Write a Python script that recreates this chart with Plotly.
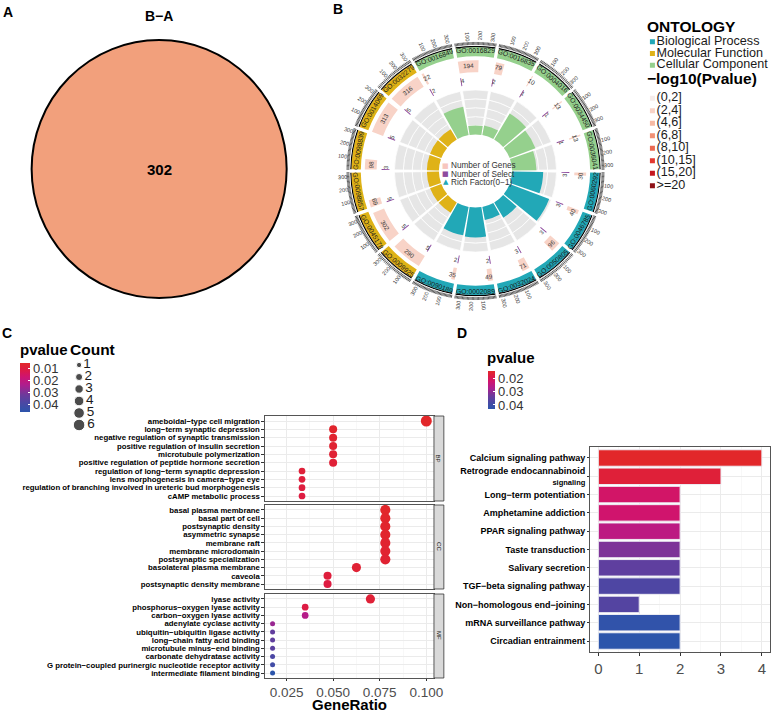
import math
import plotly.graph_objects as go

W, H = 784, 712
FONT = "Liberation Sans, Arial, sans-serif"


def dx(a, b):
    return [a / W, b / W]


def dy(a, b):
    return [1 - b / H, 1 - a / H]


def px_x(p):
    return p / W


def px_y(p):
    return 1 - p / H


# ======================= DATA =======================
# Panel A (Venn, one set)
venn_label = "B−A"
venn_size = 302

# Panel B (GO circle, sectors clockwise from top)
b_go_ids = ["GO:0016829", "GO:0016835", "GO:0004016", "GO:0034450", "GO:0036041",
            "GO:0060292", "GO:0046785", "GO:0050805", "GO:0032024", "GO:0002089", "GO:0090189",
            "GO:0009925", "GO:0045178", "GO:0098857", "GO:0098839", "GO:0014069", "GO:0032279",
            "GO:0016849"]
b_ontology = ["CC", "CC", "CC", "CC", "CC",
              "BP", "BP", "BP", "BP", "BP", "BP",
              "MF", "MF", "MF", "MF", "MF", "MF",
              "CC"]
b_genes = [194, 79, 10, 13, 13, 30, 40, 96, 71, 49, 35, 290, 302, 69, 98, 313, 316, 22]
b_select = [4, 2, 1, 1, 1, 3, 3, 3, 3, 2, 2, 5, 5, 5, 3, 5, 5, 2]
b_rich = [0.20, 0.22, 0.68, 0.62, 0.55, 0.70, 0.95, 0.40, 0.30, 0.67, 0.65,
          0.27, 0.27, 0.27, 0.27, 0.27, 0.27, 0.65]
b_pbin = ["(2,4]"] * 18
ontology_order = ["BP", "MF", "CC"]
ontology_names = ["Biological Process", "Molecular Function", "Cellular Component"]
pbin_labels = ["(0,2]", "(2,4]", "(4,6]", "(6,8]", "(8,10]", "(10,15]", "(15,20]", ">=20"]
center_legend = ["Number of Genes", "Number of Select", "Rich Factor(0−1)"]
b_axis_labels = [100, 200, 300]

# Panel C (dot plot, faceted)
c_facets = ["BP", "CC", "MF"]
c_bp_terms = ["ameboidal−type cell migration", "long−term synaptic depression",
              "negative regulation of synaptic transmission", "positive regulation of insulin secretion",
              "microtubule polymerization", "positive regulation of peptide hormone secretion",
              "regulation of long−term synaptic depression", "lens morphogenesis in camera−type eye",
              "regulation of branching involved in ureteric bud morphogenesis", "cAMP metabolic process"]
c_bp_ratio = [0.100, 0.050, 0.050, 0.050, 0.050, 0.050, 0.0333, 0.0333, 0.0333, 0.0333]
c_bp_count = [6, 3, 3, 3, 3, 3, 2, 2, 2, 2]
c_bp_p = [0.0058, 0.0065, 0.0070, 0.0075, 0.0080, 0.0085, 0.0090, 0.0095, 0.0100, 0.0105]
c_cc_terms = ["basal plasma membrane", "basal part of cell", "postsynaptic density", "asymmetric synapse",
              "membrane raft", "membrane microdomain", "postsynaptic specialization",
              "basolateral plasma membrane", "caveola", "postsynaptic density membrane"]
c_cc_ratio = [0.078, 0.078, 0.078, 0.078, 0.078, 0.078, 0.078, 0.0625, 0.047, 0.047]
c_cc_count = [5, 5, 5, 5, 5, 5, 5, 4, 3, 3]
c_cc_p = [0.0060, 0.0062, 0.0064, 0.0066, 0.0070, 0.0072, 0.0075, 0.0080, 0.0095, 0.0105]
c_mf_terms = ["lyase activity", "phosphorus−oxygen lyase activity", "carbon−oxygen lyase activity",
              "adenylate cyclase activity", "ubiquitin−ubiquitin ligase activity",
              "long−chain fatty acid binding", "microtubule minus−end binding",
              "carbonate dehydratase activity",
              "G protein−coupled purinergic nucleotide receptor activity",
              "intermediate filament binding"]
c_mf_ratio = [0.070, 0.035, 0.035, 0.0175, 0.0175, 0.0175, 0.0175, 0.0175, 0.0175, 0.0175]
c_mf_count = [4, 2, 2, 1, 1, 1, 1, 1, 1, 1]
c_mf_p = [0.0085, 0.0110, 0.0225, 0.0265, 0.0340, 0.0345, 0.0355, 0.0385, 0.0410, 0.0460]
c_count_levels = [1, 2, 3, 4, 5, 6]
c_p_ticks = [0.01, 0.02, 0.03, 0.04]
c_x_ticks = [0.025, 0.050, 0.075, 0.100]

# Panel D (KEGG bar chart)
d_terms = ["Calcium signaling pathway", "Retrograde endocannabinoid signaling", "Long−term potentiation",
           "Amphetamine addiction", "PPAR signaling pathway", "Taste transduction", "Salivary secretion",
           "TGF−beta signaling pathway", "Non−homologous end−joining", "mRNA surveillance pathway",
           "Circadian entrainment"]
d_count = [4, 3, 2, 2, 2, 2, 2, 2, 1, 2, 2]
d_p = [0.0148, 0.0170, 0.0219, 0.0224, 0.0255, 0.0317, 0.0350, 0.0374, 0.0365, 0.0422, 0.0430]
d_p_ticks = [0.02, 0.03, 0.04]
d_x_ticks = [0, 1, 2, 3, 4]

# ======================= STYLE =======================
ONT_COLORS = {"BP": "#22A8B7", "MF": "#DFB217", "CC": "#95D08D"}
PBIN_COLORS = ["#F6ECEA", "#F8D3C7", "#F6B9A3", "#F29174", "#EC6A51", "#E3382F", "#C5161E", "#8F1116"]
SEL_COLOR = "#8E4B9E"
GRAD = [[0.0, "#2C55AB"], [0.18, "#4A48A4"], [0.35, "#6D3A9B"], [0.55, "#AE1E8E"],
        [0.72, "#CF1470"], [0.86, "#DD1A45"], [1.0, "#E2272A"]]

fig = go.Figure()
ann = []
shapes = []


def note(x, y, text, size, color="black", angle=0, xanchor="center", family=None):
    f = dict(size=size, color=color)
    if family:
        f["family"] = family
    ann.append(dict(x=x, y=y, xref="paper", yref="paper", text=text, showarrow=False,
                    textangle=angle, xanchor=xanchor, yanchor="middle", font=f,
                    borderpad=0, borderwidth=0))


# ======================= PANEL A =======================
A_CX, A_CY, A_R = 161, 169, 129
shapes.append(dict(type="circle", xref="x", yref="y", x0=A_CX - A_R, x1=A_CX + A_R,
                   y0=A_CY - A_R, y1=A_CY + A_R, fillcolor="#F2A07C",
                   line=dict(color="black", width=2), layer="below"))
note(px_x(A_CX), px_y(16), "<b>%s</b>" % venn_label, 14)
note(px_x(A_CX), px_y(A_CY), "<b>%d</b>" % venn_size, 15)

# ======================= PANEL B =======================
CX, CY = 481, 171
R_AX = 127
N = len(b_go_ids)
SECT = 360.0 / N
GAP = 1.6
SPAN = SECT - GAP
AX_MAX = 330.0
DPU = SPAN / AX_MAX
centers = [i * SECT for i in range(N)]
starts = [c - SPAN / 2 for c in centers]

R_IN, R_TR, N_BANDS = 37, 45, 5
R_SEL0, R_SEL = 87, 8
R_G0, R_G = 100, 12
R_O0, R_O = 116, 9.5


def polar_paper(r, theta):
    t = math.radians(theta)
    return px_x(CX + r * math.sin(t)), px_y(CY - r * math.cos(t))


def tang(theta):
    t = theta % 360
    if t <= 90:
        return t
    if t >= 270:
        return t - 360
    return t - 180


def radial(theta):
    t = theta % 360
    return t - 90 if t <= 180 else t - 270


bt, bb = [], []
for c in centers:
    for k in range(N_BANDS):
        bt.append(c)
        bb.append(R_IN + k * R_TR / N_BANDS)
fig.add_trace(go.Barpolar(theta=bt, r=[R_TR / N_BANDS] * len(bt), base=bb, width=SPAN,
                          marker=dict(color="#E6E6E6", line=dict(color="white", width=0.7)),
                          hoverinfo="skip", showlegend=False))
for ont in ontology_order:
    idx = [i for i in range(N) if b_ontology[i] == ont]
    fig.add_trace(go.Barpolar(theta=[centers[i] for i in idx], r=[b_rich[i] * R_TR for i in idx],
                              base=R_IN, width=SPAN,
                              marker=dict(color=ONT_COLORS[ont], line=dict(width=0)),
                              hoverinfo="skip", showlegend=False))
fig.add_trace(go.Barpolar(theta=[starts[i] + b_select[i] * DPU / 2 for i in range(N)],
                          r=[R_SEL] * N, base=R_SEL0,
                          width=[max(b_select[i] * DPU, 0.6) for i in range(N)],
                          marker=dict(color=SEL_COLOR, line=dict(width=0)),
                          hoverinfo="skip", showlegend=False))
for bi, lab in enumerate(pbin_labels):
    idx = [i for i in range(N) if b_pbin[i] == lab]
    if not idx:
        continue
    fig.add_trace(go.Barpolar(theta=[starts[i] + b_genes[i] * DPU / 2 for i in idx],
                              r=[R_G] * len(idx), base=R_G0,
                              width=[b_genes[i] * DPU for i in idx],
                              marker=dict(color=PBIN_COLORS[bi], line=dict(width=0)),
                              hoverinfo="skip", showlegend=False))
for ont in ontology_order:
    idx = [i for i in range(N) if b_ontology[i] == ont]
    fig.add_trace(go.Barpolar(theta=[centers[i] for i in idx], r=[R_O] * len(idx), base=R_O0,
                              width=SPAN, marker=dict(color=ONT_COLORS[ont], line=dict(width=0)),
                              hoverinfo="skip", showlegend=False))
fig.add_trace(go.Barpolar(theta=centers, r=[1.2] * N, base=R_O0 + R_O, width=SPAN,
                          marker=dict(color="black", line=dict(width=0)),
                          hoverinfo="skip", showlegend=False))

tickvals = []
for s in starts:
    for v in range(0, int(AX_MAX) + 1, 10):
        tickvals.append((s + v * DPU) % 360)

for i in range(N):
    x, y = polar_paper(R_O0 + R_O / 2, centers[i])
    note(x, y, b_go_ids[i], 6.8, "#1A1A1A", tang(centers[i]))
    gth = max(starts[i] + b_genes[i] * DPU / 2, starts[i] + 1.6)
    x, y = polar_paper(R_G0 + R_G / 2, gth)
    note(x, y, str(b_genes[i]), 6.3, "#333333", tang(gth))
    sth = starts[i] + 1.4
    x, y = polar_paper(R_SEL0 + R_SEL / 2, sth)
    note(x, y, str(b_select[i]), 6, "#333333", tang(sth))
    for v in b_axis_labels:
        th = starts[i] + v * DPU
        x, y = polar_paper(R_AX + 8, th)
        note(x, y, str(v), 5.5, "#333333", radial(th))

cl_colors = ["#F7C6BE", SEL_COLOR, ONT_COLORS["BP"]]
cl_glyph = ["■", "■", "▲"]
for k, t in enumerate(center_legend):
    yy = 165.5 + 8.5 * k
    note(px_x(451), px_y(yy), cl_glyph[k], 7, cl_colors[k], family="DejaVu Sans")
    note(px_x(456), px_y(yy), t, 8.2, "#333333", xanchor="left")

fig.add_trace(go.Scatter(x=[5] * 3, y=list(range(3)), xaxis="x6", yaxis="y6", mode="markers+text",
                         marker=dict(symbol="square", size=5, color=[ONT_COLORS[o] for o in ontology_order]),
                         text=ontology_names, textposition="middle right",
                         textfont=dict(size=12.6, color="#1A1A1A"), hoverinfo="skip", showlegend=False))
fig.add_trace(go.Scatter(x=[5] * len(pbin_labels), y=list(range(len(pbin_labels))), xaxis="x7", yaxis="y7",
                         mode="markers+text",
                         marker=dict(symbol="square", size=5, color=PBIN_COLORS),
                         text=pbin_labels, textposition="middle right",
                         textfont=dict(size=12.6, color="#1A1A1A"), hoverinfo="skip", showlegend=False))
note(px_x(655), px_y(27), "<b>ONTOLOGY</b>", 15.5, xanchor="left")
note(px_x(655), px_y(78), "<b>−log10(Pvalue)</b>", 15.5, xanchor="left")


# ======================= PANEL C =======================
def dot_size(c):
    return 5 + 6 * (math.sqrt(c) - 1) / (math.sqrt(6) - 1)


c_data = [(c_bp_terms, c_bp_ratio, c_bp_count, c_bp_p),
          (c_cc_terms, c_cc_ratio, c_cc_count, c_cc_p),
          (c_mf_terms, c_mf_ratio, c_mf_count, c_mf_p)]
C_X0, C_X1 = 268, 439
C_Y = [(416, 501), (505, 589), (594, 678)]
for k, (terms, ratio, count, p) in enumerate(c_data):
    fig.add_trace(go.Scatter(x=ratio, y=terms, xaxis="x%d" % (k + 2), yaxis="y%d" % (k + 2), mode="markers",
                             marker=dict(size=[dot_size(c) for c in count], color=[-v for v in p],
                                         coloraxis="coloraxis", line=dict(width=0), opacity=1),
                             hoverinfo="skip", showlegend=False))
    shapes.append(dict(type="rect", xref="paper", yref="paper", x0=px_x(C_X1), x1=px_x(C_X1 + 10),
                       y0=px_y(C_Y[k][1]), y1=px_y(C_Y[k][0]), fillcolor="#D9D9D9",
                       line=dict(color="#333333", width=0.8)))
    note(px_x(C_X1 + 5), px_y((C_Y[k][0] + C_Y[k][1]) / 2), c_facets[k], 6, "#1A1A1A", 90)

fig.add_trace(go.Scatter(x=[8] * len(c_count_levels), y=list(range(len(c_count_levels))), xaxis="x8", yaxis="y8",
                         mode="markers+text",
                         marker=dict(size=[dot_size(c) * 1.05 for c in c_count_levels], color="black"),
                         text=[str(c) for c in c_count_levels], textposition="middle right",
                         textfont=dict(size=13.5, color="#1A1A1A"), hoverinfo="skip", showlegend=False))
note(px_x(20), px_y(349), "<b>pvalue</b>", 15, xanchor="left")
note(px_x(71), px_y(349), "<b>Count</b>", 15.5, xanchor="left")
note(px_x((C_X0 + C_X1) / 2), px_y(704.5), "<b>GeneRatio</b>", 15)


# ======================= PANEL D =======================
def wrap(t):
    if t == "Retrograde endocannabinoid signaling":
        return "Retrograde endocannabinoid<br><span style='font-size:7.5px'>signaling</span>"
    return t


fig.add_trace(go.Bar(x=d_count, y=d_terms, orientation="h", xaxis="x5", yaxis="y5", width=0.9,
                     marker=dict(color=[-v for v in d_p], coloraxis="coloraxis2",
                                 line=dict(color="#EDEDF3", width=1)),
                     hoverinfo="skip", showlegend=False))
note(px_x(493), px_y(357), "<b>pvalue</b>", 15, xanchor="left")

for lab, xx, yy in [("A", 8, 12), ("B", 342, 9), ("C", 7, 333), ("D", 467, 333)]:
    note(px_x(xx), px_y(yy), "<b>%s</b>" % lab, 14)


# ======================= LAYOUT =======================
def hidden(domain, rng, anchor):
    return dict(domain=domain, range=rng, visible=False, fixedrange=True, anchor=anchor)


layout = dict(
    width=W, height=H, margin=dict(l=0, r=0, t=0, b=0, pad=0), autosize=False,
    paper_bgcolor="white", plot_bgcolor="white", showlegend=False, hovermode=False,
    font=dict(family=FONT, color="#1A1A1A"),
    annotations=ann, shapes=shapes,
    xaxis=hidden(dx(0, 390), [0, 390], "y"),
    yaxis=hidden(dy(0, 310), [310, 0], "x"),
    xaxis6=hidden(dx(655, 784), [0, 129], "y6"),
    yaxis6=hidden(dy(36, 71), [2.5, -0.5], "x6"),
    xaxis7=hidden(dx(655, 784), [0, 129], "y7"),
    yaxis7=hidden(dy(92, 192), [7.5, -0.5], "x7"),
    xaxis8=hidden(dx(72, 110), [0, 38], "y8"),
    yaxis8=hidden(dy(359, 431), [5.5, -0.5], "x8"),
    polar=dict(domain=dict(x=dx(CX - R_AX, CX + R_AX), y=dy(CY - R_AX, CY + R_AX)),
               bgcolor="rgba(0,0,0,0)", barmode="overlay",
               radialaxis=dict(range=[0, R_AX], visible=False),
               angularaxis=dict(rotation=90, direction="clockwise", thetaunit="degrees",
                                tickmode="array", tickvals=tickvals, ticks="outside", ticklen=3,
                                tickcolor="black", tickwidth=0.6, showticklabels=False,
                                showline=False, showgrid=False)),
    coloraxis=dict(colorscale=GRAD,
                   colorbar=dict(x=px_x(20), xanchor="left", y=px_y(387.5), yanchor="middle",
                                 len=49, lenmode="pixels", thickness=10, thicknessmode="pixels",
                                 xpad=0, ypad=0, outlinewidth=0, ticks="inside", tickcolor="white",
                                 ticklen=2, tickvals=[-v for v in c_p_ticks],
                                 ticktext=["%.2f" % v for v in c_p_ticks],
                                 tickfont=dict(size=13, color="#333333"))),
    coloraxis2=dict(colorscale=GRAD,
                    colorbar=dict(x=px_x(494), xanchor="left", y=px_y(390), yanchor="middle",
                                  len=38, lenmode="pixels", thickness=7, thicknessmode="pixels",
                                  xpad=0, ypad=0, outlinewidth=0, ticks="inside", tickcolor="white",
                                  ticklen=2, tickvals=[-v for v in d_p_ticks],
                                  ticktext=["%.2f" % v for v in d_p_ticks],
                                  tickfont=dict(size=13, color="#333333"))),
)

for k in range(3):
    xa = "xaxis%d" % (k + 2)
    ya = "yaxis%d" % (k + 2)
    layout[xa] = dict(domain=dx(C_X0, C_X1), range=[0.0134, 0.1041], anchor="y%d" % (k + 2),
                      tickvals=c_x_ticks, ticktext=["%.3f" % v for v in c_x_ticks],
                      showticklabels=(k == 2), ticks="outside" if k == 2 else "", ticklen=2,
                      tickcolor="#333333", tickfont=dict(size=13.5, color="#4D4D4D"),
                      showgrid=True, gridcolor="#EBEBEB", gridwidth=1,
                      minor=dict(showgrid=True, gridcolor="#F4F4F4", gridwidth=0.6,
                                 tickvals=[0.0375, 0.0625, 0.0875]),
                      showline=True, mirror=True, linecolor="#555555", linewidth=1, zeroline=False,
                      fixedrange=True)
    layout[ya] = dict(domain=dy(*C_Y[k]), type="category", categoryorder="array",
                      categoryarray=c_data[k][0], tickmode="array", tickvals=c_data[k][0],
                      ticktext=c_data[k][0], range=[9.6, -0.6], anchor="x%d" % (k + 2),
                      tickfont=dict(size=7.8, color="black", weight="bold"), ticks="outside",
                      ticklen=2.5, tickcolor="#333333", showgrid=True, gridcolor="#EBEBEB",
                      showline=True, mirror=True, linecolor="#555555", linewidth=1, fixedrange=True)

layout["xaxis5"] = dict(domain=dx(597, 779), range=[-0.2, 4.2], anchor="y5", tickvals=d_x_ticks,
                        ticks="outside", ticklen=3, tickcolor="#333333",
                        tickfont=dict(size=15, color="#4D4D4D"),
                        showgrid=True, gridcolor="#EBEBEB", gridwidth=1,
                        minor=dict(showgrid=True, gridcolor="#F4F4F4", gridwidth=0.6, dtick=0.5),
                        showline=True, mirror=True, linecolor="#555555", linewidth=1, zeroline=False,
                        fixedrange=True)
layout["yaxis5"] = dict(domain=dy(447, 652), type="category", categoryorder="array", categoryarray=d_terms,
                        tickmode="array", tickvals=d_terms, ticktext=[wrap(t) for t in d_terms],
                        range=[10.6, -0.6],
                        anchor="x5", tickfont=dict(size=9, color="black", weight="bold"), ticks="outside",
                        ticklen=2, tickcolor="#333333", showgrid=True, gridcolor="#EBEBEB",
                        showline=True, mirror=True, linecolor="#555555", linewidth=1, fixedrange=True)

fig.update_layout(**layout)
fig.write_html("out.html", config={"displayModeBar": False, "staticPlot": True},
               post_script="document.body.style.margin='0px';document.body.style.overflow='hidden';")
